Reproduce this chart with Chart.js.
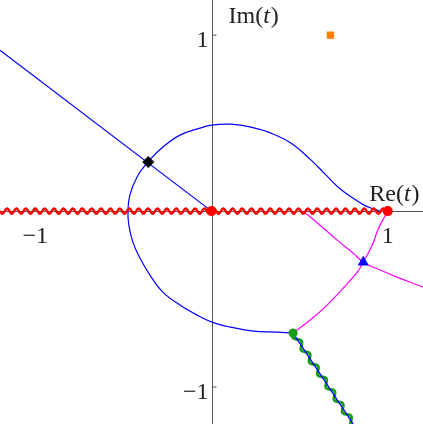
<!DOCTYPE html>
<html>
<head>
<meta charset="utf-8">
<script src="https://cdn.jsdelivr.net/npm/chart.js@4.4.1/dist/chart.umd.min.js"></script>
<style>
  body { margin: 0; background: #fff; }
  #wrap { width: 423px; height: 424px; }
</style>
</head>
<body>
<div id="wrap"><canvas id="plane"></canvas></div>
<script>
// closed-ish contour: starts on the cut near 1, goes round the origin, ends at the green point
const loopRe = [0.955, 0.923, 0.866, 0.793, 0.719, 0.639, 0.565, 0.452, 0.338, 0.224, 0.111, 0, -0.065, -0.179, -0.276, -0.359, -0.423, -0.463, -0.474,
                -0.469, -0.446, -0.406, -0.349, -0.276, -0.179, -0.082, 0.003, 0.105, 0.236, 0.372, 0.463];
const loopIm = [0, 0.011, 0.034, 0.080, 0.136, 0.216, 0.290, 0.386, 0.443, 0.477, 0.494, 0.489, 0.472, 0.432, 0.364, 0.281, 0.193, 0.091, 0,
                -0.080, -0.176, -0.267, -0.364, -0.460, -0.534, -0.591, -0.631, -0.659, -0.682, -0.688, -0.693];

// straight rays
const rayUpRe = [-1.2, 0];
const rayUpIm = [0.915, 0];
const rayDownRe = [0.463, 0.804];
const rayDownIm = [-0.693, -1.21];

// magenta arcs
const arcARe = [0.463, 0.560, 0.656, 0.747, 0.827, 0.861, 0.912, 0.948, 1];
const arcAIm = [-0.693, -0.619, -0.534, -0.438, -0.347, -0.290, -0.193, -0.097, 0];
const arcBRe = [0.520, 0.616, 0.713, 0.804, 0.861, 0.957, 1.053, 1.201];
const arcBIm = [0, -0.080, -0.165, -0.239, -0.290, -0.335, -0.375, -0.432];

// branch cuts (drawn wavy)
const cutRe = [-1.2, 1];
const cutIm = [0, 0];

// marked points
const redRe = [0, 1];
const redIm = [0, 0];
const greenPt = [0.463, -0.693];
const trianglePt = [0.861, -0.290];
const diamondPt = [-0.359, 0.279];
const squarePt = [0.675, 1.0];

const xTicks = [-1, 1];
const yTicks = [-1, 1];
const xTickLabels = ['\u22121', '1'];
const yTickLabels = ['\u22121', '1'];

function pts(re, im) {
  return re.map((x, i) => ({ x: x, y: im[i] }));
}

const FONT = '"Liberation Serif", "DejaVu Serif", serif';

const axesPlugin = {
  id: 'axes',
  beforeDatasetsDraw(chart) {
    const ctx = chart.ctx, xs = chart.scales.x, ys = chart.scales.y, area = chart.chartArea;
    const x0 = Math.round(xs.getPixelForValue(0)) + 0.5;
    const y0 = Math.round(ys.getPixelForValue(0)) + 0.5;
    ctx.save();
    ctx.strokeStyle = '#555';
    ctx.lineWidth = 1;
    ctx.beginPath();
    ctx.moveTo(area.left, y0); ctx.lineTo(area.right, y0);
    ctx.moveTo(x0, area.top); ctx.lineTo(x0, area.bottom);
    xTicks.forEach(v => {
      const p = xs.getPixelForValue(v);
      ctx.moveTo(p, y0); ctx.lineTo(p, y0 - 4);
    });
    yTicks.forEach(v => {
      const p = ys.getPixelForValue(v);
      ctx.moveTo(x0, p); ctx.lineTo(x0 + 4, p);
    });
    ctx.stroke();

    ctx.fillStyle = '#222';
    ctx.font = '24px ' + FONT;
    ctx.textBaseline = 'alphabetic';
    ctx.textAlign = 'center';
    xTicks.forEach((v, i) => ctx.fillText(xTickLabels[i], xs.getPixelForValue(v), y0 + 31));
    ctx.textAlign = 'right';
    yTicks.forEach((v, i) => ctx.fillText(yTickLabels[i], x0 - 4, ys.getPixelForValue(v) + 11.5));

    // axis names with italic t
    ctx.textAlign = 'left';
    function title(pre, x, y) {
      ctx.font = '24px ' + FONT;
      ctx.fillText(pre + '(', x, y);
      x += ctx.measureText(pre + '(').width;
      ctx.font = 'italic 24px ' + FONT;
      ctx.fillText('t', x, y);
      x += ctx.measureText('t').width + 1;
      ctx.font = '24px ' + FONT;
      ctx.fillText(')', x, y);
    }
    title('Im', x0 + 16, 23);
    title('Re', xs.getPixelForValue(0.895), y0 - 11);
    ctx.restore();
  }
};

// draws a sine wave along the segments of datasets that carry a "wave" option
const wavePlugin = {
  id: 'wave',
  afterDatasetDraw(chart, args) {
    const ds = chart.data.datasets[args.index];
    if (!ds.wave) return;
    const ctx = chart.ctx, els = args.meta.data;
    ctx.save();
    ctx.strokeStyle = ds.wave.color;
    ctx.lineWidth = ds.wave.width;
    ctx.lineJoin = 'round';
    ctx.beginPath();
    for (let k = 0; k < els.length - 1; k++) {
      const a = els[k], b = els[k + 1];
      const dx = b.x - a.x, dy = b.y - a.y, len = Math.hypot(dx, dy);
      const ux = dx / len, uy = dy / len, nx = -uy, ny = ux;
      for (let s = 0; s <= len; s += 0.5) {
        const off = ds.wave.amp * Math.sin(2 * Math.PI * s / ds.wave.period);
        const px = a.x + ux * s + nx * off, py = a.y + uy * s + ny * off;
        if (s === 0 && k === 0) ctx.moveTo(px, py); else ctx.lineTo(px, py);
      }
    }
    ctx.stroke();
    ctx.restore();
  }
};

new Chart(document.getElementById('plane'), {
  type: 'scatter',
  data: {
    datasets: [
      { data: pts(redRe, redIm), pointStyle: 'circle', pointRadius: 5, backgroundColor: '#ff0000', borderWidth: 0 },
      { data: [{ x: greenPt[0], y: greenPt[1] }], pointRadius: 4.5, backgroundColor: '#1a9e1a', borderWidth: 0 },
      { data: [{ x: trianglePt[0], y: trianglePt[1] }], pointStyle: 'triangle', pointRadius: 6.5, backgroundColor: '#0000ff', borderWidth: 0 },
      { data: [{ x: diamondPt[0], y: diamondPt[1] }], pointStyle: 'rectRot', pointRadius: 6, backgroundColor: '#000', borderWidth: 0 },
      { data: [{ x: squarePt[0], y: squarePt[1] }], pointStyle: 'rect', pointRadius: 5.2, backgroundColor: '#ff8000', borderWidth: 0 },
      { data: pts(cutRe, cutIm), showLine: false, pointRadius: 0, wave: { color: '#ff0000', amp: 2.6, period: 9.4, width: 2.4 } },
      { data: pts(rayDownRe, rayDownIm), showLine: true, borderColor: '#0000ff', borderWidth: 1.3, pointRadius: 0 },
      { data: pts(rayDownRe, rayDownIm), showLine: false, pointRadius: 0, wave: { color: '#1a9e1a', amp: 2.6, period: 15, width: 3 } },
      { data: pts(arcARe, arcAIm), showLine: true, borderColor: '#ff00ff', borderWidth: 1.2, pointRadius: 0, tension: 0.4 },
      { data: pts(arcBRe, arcBIm), showLine: true, borderColor: '#ff00ff', borderWidth: 1.2, pointRadius: 0, tension: 0.4 },
      { data: pts(rayUpRe, rayUpIm), showLine: true, borderColor: '#0000ff', borderWidth: 1.2, pointRadius: 0 },
      { data: pts(loopRe, loopIm), showLine: true, borderColor: '#0000ff', borderWidth: 1.2, pointRadius: 0, tension: 0.4 }
    ]
  },
  options: {
    responsive: true,
    maintainAspectRatio: false,
    animation: false,
    layout: { padding: 0, autoPadding: false },
    plugins: { legend: { display: false }, tooltip: { enabled: false } },
    scales: {
      x: { type: 'linear', min: -1.2, max: 1.2, display: false },
      y: { type: 'linear', min: -1.21, max: 1.2, display: false }
    }
  },
  plugins: [axesPlugin, wavePlugin]
});
</script>
</body>
</html>
